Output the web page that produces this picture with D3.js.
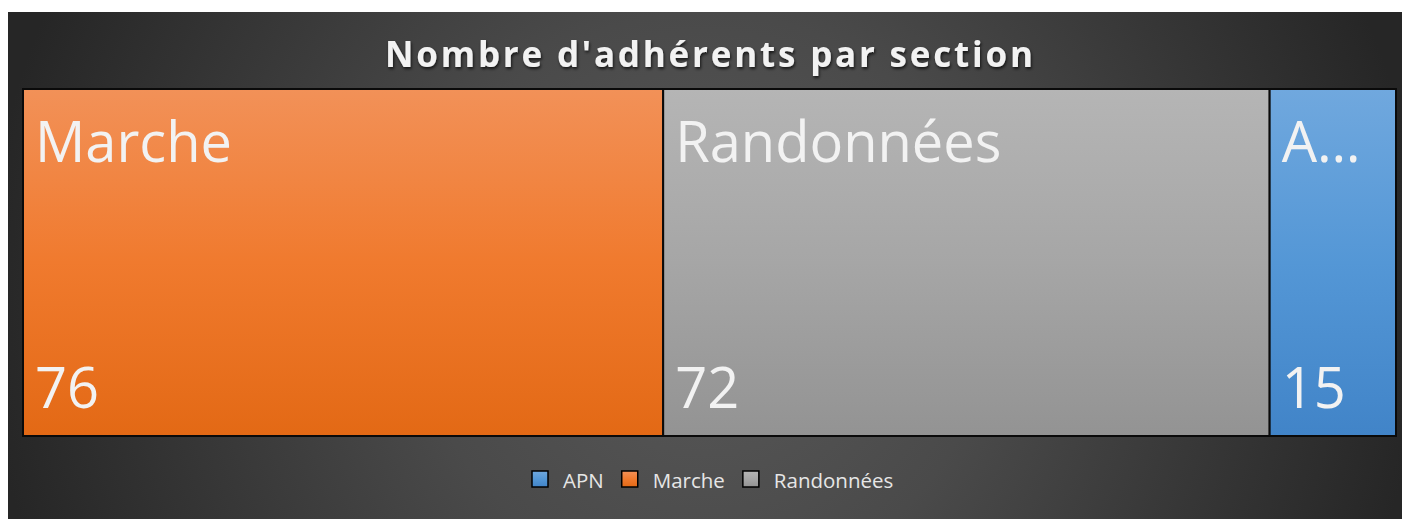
<!DOCTYPE html>
<html><head><meta charset="utf-8">
<script src="https://cdn.jsdelivr.net/npm/d3@7"></script>
<style>
html,body{margin:0;padding:0;background:#fff;}
svg{display:block;}
</style></head>
<body>
<svg id="chart" width="1402" height="519"></svg>
<script>
const categories = ["Marche", "Randonnées", "APN"];
const values = [76, 72, 15];
const legendOrder = ["APN", "Marche", "Randonnées"];
const title = "Nombre d'adhérents par section";

const colors = {
  "Marche": ["#f29158", "#f07a2e", "#e36915"],
  "Randonnées": ["#b5b5b5", "#a6a6a6", "#939393"],
  "APN": ["#70a8de", "#5497d6", "#4184c8"]
};

const svg = d3.select("#chart");
const defs = svg.append("defs");

const bg = defs.append("radialGradient").attr("id", "bg")
  .attr("gradientUnits", "userSpaceOnUse")
  .attr("cx", 705).attr("cy", 300).attr("r", 720);
bg.append("stop").attr("offset", "0%").attr("stop-color", "#595959");
bg.append("stop").attr("offset", "40%").attr("stop-color", "#4a4a4a");
bg.append("stop").attr("offset", "100%").attr("stop-color", "#262626");

categories.forEach((c, i) => {
  const g = defs.append("linearGradient").attr("id", "g" + i)
    .attr("x1", 0).attr("y1", 0).attr("x2", 0).attr("y2", 1);
  g.append("stop").attr("offset", "0%").attr("stop-color", colors[c][0]);
  g.append("stop").attr("offset", "50%").attr("stop-color", colors[c][1]);
  g.append("stop").attr("offset", "100%").attr("stop-color", colors[c][2]);
});

const shadow = defs.append("filter").attr("id", "ts").attr("x", "-5%").attr("y", "-20%").attr("width", "110%").attr("height", "150%");
shadow.append("feDropShadow").attr("dx", 1).attr("dy", 2).attr("stdDeviation", 1.5).attr("flood-color", "#000").attr("flood-opacity", 0.7);

// background
svg.append("rect").attr("x", 8).attr("y", 12).attr("width", 1394).attr("height", 507).attr("fill", "url(#bg)");

// title
svg.append("text").attr("x", 709).attr("y", 67).attr("text-anchor", "middle")
  .attr("font-family", "Open Sans, sans-serif").attr("font-weight", "bold")
  .attr("font-size", 35).attr("fill", "#f2f2f2")
  .attr("textLength", 648).attr("lengthAdjust", "spacing")
  .attr("filter", "url(#ts)")
  .text(title);

// treemap
const px = 23, py = 89, pw = 1373, ph = 347;
const data = {name: "root", children: categories.map((c, i) => ({name: c, value: values[i], idx: i}))};
const root = d3.hierarchy(data).sum(d => d.value || 0);
d3.treemap().tile(d3.treemapDice).size([pw, ph]).paddingInner(0)(root);

const g = svg.append("g").attr("transform", `translate(${px},${py})`);
const leaves = g.selectAll("g.leaf").data(root.leaves()).join("g").attr("class", "leaf");

leaves.append("rect")
  .attr("x", d => d.x0).attr("y", d => d.y0)
  .attr("width", d => d.x1 - d.x0).attr("height", d => d.y1 - d.y0)
  .attr("fill", d => `url(#g${d.data.idx})`)
  .attr("stroke", "#0a0a0a").attr("stroke-width", 2);

const fs = 56;
leaves.each(function(d) {
  const sel = d3.select(this);
  const maxW = (d.x1 - d.x0) - 26;
  const t = sel.append("text").attr("x", d.x0 + 12).attr("y", d.y0 + 73)
    .attr("font-family", "Open Sans, sans-serif").attr("font-size", fs).attr("fill", "#f2f2f2")
    .text(d.data.name);
  let s = d.data.name;
  while (t.node().getComputedTextLength() > maxW && s.length > 1) {
    s = s.slice(0, -1);
    t.text(s + "…");
  }
  sel.append("text").attr("x", d.x0 + 12).attr("y", d.y0 + 319)
    .attr("font-family", "Open Sans, sans-serif").attr("font-size", fs).attr("fill", "#f2f2f2")
    .text(d.data.value);
});

// legend
const legend = svg.append("g");
let lx = 532;
const ly = 471;
legendOrder.forEach(name => {
  const i = categories.indexOf(name);
  legend.append("rect").attr("x", lx).attr("y", ly).attr("width", 16).attr("height", 16)
    .attr("fill", `url(#g${i})`).attr("stroke", "#000").attr("stroke-width", 1.5);
  const t = legend.append("text").attr("x", lx + 31).attr("y", ly + 17)
    .attr("font-family", "Open Sans, sans-serif").attr("font-size", 20.5).attr("fill", "#e6e6e6")
    .text(name);
  lx += 31 + t.node().getComputedTextLength() + 18;
});
</script>
</body></html>
